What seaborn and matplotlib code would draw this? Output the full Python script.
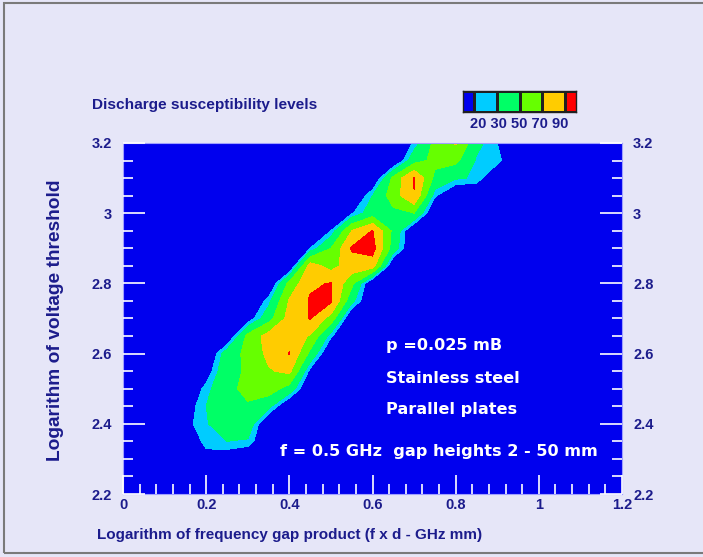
import matplotlib.pyplot as plt
import numpy as np
import seaborn as sns
from matplotlib.colors import ListedColormap
from matplotlib.patches import Rectangle
from matplotlib.ticker import MultipleLocator

# grid of log(f x d) and log(V) with susceptibility level
log_fd = [0.00, 0.05, 0.10, 0.15, 0.20, 0.25, 0.30, 0.35, 0.40, 0.45, 0.50, 0.55, 0.60,
          0.65, 0.70, 0.75, 0.80, 0.85, 0.90, 0.95, 1.00, 1.05, 1.10, 1.15, 1.20]
log_v = [2.20, 2.25, 2.30, 2.35, 2.40, 2.45, 2.50, 2.55, 2.60, 2.65, 2.70,
         2.75, 2.80, 2.85, 2.90, 2.95, 3.00, 3.05, 3.10, 3.15, 3.20]
susceptibility = [
    [0, 0, 0, 0, 0, 0, 0, 0, 0, 0, 0, 0, 0, 0, 0, 0, 0, 0, 0, 0, 0, 0, 0, 0, 0],
    [0, 0, 0, 0, 0, 0, 0, 0, 0, 0, 0, 0, 0, 0, 0, 0, 0, 0, 0, 0, 0, 0, 0, 0, 0],
    [0, 0, 0, 0, 12, 8, 0, 0, 0, 0, 0, 0, 0, 0, 0, 0, 0, 0, 0, 0, 0, 0, 0, 0, 0],
    [0, 0, 0, 0, 26, 30, 28, 0, 0, 0, 0, 0, 0, 0, 0, 0, 0, 0, 0, 0, 0, 0, 0, 0, 0],
    [0, 0, 0, 15, 28, 45, 42, 0, 0, 0, 0, 0, 0, 0, 0, 0, 0, 0, 0, 0, 0, 0, 0, 0, 0],
    [0, 0, 0, 10, 30, 45, 48, 35, 0, 0, 0, 0, 0, 0, 0, 0, 0, 0, 0, 0, 0, 0, 0, 0, 0],
    [0, 0, 0, 0, 25, 45, 55, 60, 42, 0, 0, 0, 0, 0, 0, 0, 0, 0, 0, 0, 0, 0, 0, 0, 0],
    [0, 0, 0, 0, 10, 45, 52, 68, 75, 15, 0, 0, 0, 0, 0, 0, 0, 0, 0, 0, 0, 0, 0, 0, 0],
    [0, 0, 0, 0, 0, 40, 55, 75, 91, 45, 0, 0, 0, 0, 0, 0, 0, 0, 0, 0, 0, 0, 0, 0, 0],
    [0, 0, 0, 0, 0, 0, 56, 78, 82, 68, 22, 0, 0, 0, 0, 0, 0, 0, 0, 0, 0, 0, 0, 0, 0],
    [0, 0, 0, 0, 0, 0, 10, 42, 78, 91, 62, 0, 0, 0, 0, 0, 0, 0, 0, 0, 0, 0, 0, 0, 0],
    [0, 0, 0, 0, 0, 0, 0, 25, 72, 92, 93, 35, 0, 0, 0, 0, 0, 0, 0, 0, 0, 0, 0, 0, 0],
    [0, 0, 0, 0, 0, 0, 0, 0, 56, 87, 91, 55, 0, 0, 0, 0, 0, 0, 0, 0, 0, 0, 0, 0, 0],
    [0, 0, 0, 0, 0, 0, 0, 0, 0, 80, 62, 82, 80, 0, 0, 0, 0, 0, 0, 0, 0, 0, 0, 0, 0],
    [0, 0, 0, 0, 0, 0, 0, 0, 0, 20, 50, 92, 98, 40, 0, 0, 0, 0, 0, 0, 0, 0, 0, 0, 0],
    [0, 0, 0, 0, 0, 0, 0, 0, 0, 0, 20, 70, 91, 45, 0, 0, 0, 0, 0, 0, 0, 0, 0, 0, 0],
    [0, 0, 0, 0, 0, 0, 0, 0, 0, 0, 0, 18, 40, 45, 50, 0, 0, 0, 0, 0, 0, 0, 0, 0, 0],
    [0, 0, 0, 0, 0, 0, 0, 0, 0, 0, 0, 0, 30, 60, 89, 22, 0, 0, 0, 0, 0, 0, 0, 0, 0],
    [0, 0, 0, 0, 0, 0, 0, 0, 0, 0, 0, 0, 0, 55, 92, 45, 32, 28, 0, 0, 0, 0, 0, 0, 0],
    [0, 0, 0, 0, 0, 0, 0, 0, 0, 0, 0, 0, 0, 0, 42, 55, 55, 28, 25, 0, 0, 0, 0, 0, 0],
    [0, 0, 0, 0, 0, 0, 0, 0, 0, 0, 0, 0, 0, 0, 22, 55, 72, 35, 20, 0, 0, 0, 0, 0, 0],
]

levels = [0, 20, 30, 50, 70, 90, 100]
level_colors = ["#0000ee", "#00ccff", "#00ff66", "#66ff00", "#ffcc00", "#ff0000"]
legend_labels = "20 30 50 70 90"

x_ticks = [0, 0.2, 0.4, 0.6, 0.8, 1.0, 1.2]
x_ticklabels = ["0", "0.2", "0.4", "0.6", "0.8", "1", "1.2"]
y_ticks = [2.2, 2.4, 2.6, 2.8, 3.0, 3.2]
y_ticklabels = ["2.2", "2.4", "2.6", "2.8", "3", "3.2"]

notes = ["p =0.025 mB", "Stainless steel", "Parallel plates"]
notes_y = [2.622, 2.528, 2.442]
freq_note = "f = 0.5 GHz  gap heights 2 - 50 mm"

sns.set_theme(style="white")
plt.rcParams["font.family"] = ["Liberation Sans", "DejaVu Sans"]
navy = "#1c1c8c"
bg = "#e6e6f8"

fig = plt.figure(figsize=(7.03, 5.57), dpi=100, facecolor=bg)
ax = fig.add_axes([0.175, 0.1131, 0.7098, 0.6302])
ax.contourf(log_fd, log_v, susceptibility, levels=levels, colors=level_colors)
ax.set_xlim(0, 1.2)
ax.set_ylim(2.2, 3.2)
ax.set_axisbelow(False)

ax.set_xticks(x_ticks)
ax.set_xticklabels(x_ticklabels, fontweight="bold", fontsize=10.5, color=navy)
ax.set_yticks(y_ticks)
ax.set_yticklabels(y_ticklabels, fontweight="bold", fontsize=10.5, color=navy)
ax.xaxis.set_minor_locator(MultipleLocator(0.04))
ax.yaxis.set_minor_locator(MultipleLocator(0.05))
ax.tick_params(which="both", direction="in", color="white", width=1.2,
               left=True, right=True, bottom=True, top=False,
               labelleft=True, labelright=True)
ax.tick_params(axis="x", which="major", length=14, pad=3)
ax.tick_params(axis="x", which="minor", length=7)
ax.tick_params(axis="y", which="major", length=16, pad=8)
ax.tick_params(axis="y", which="minor", length=7)
for spine in ax.spines.values():
    spine.set_color("#a0a0ff")
    spine.set_linewidth(0.8)

for txt, ty in zip(notes, notes_y):
    ax.text(0.632, ty, txt, color="white", fontsize=11.6, fontweight="bold",
            va="center", ha="left", family="DejaVu Sans")
ax.text(0.378, 2.3225, freq_note, color="white", fontsize=11.6, fontweight="bold",
        va="center", ha="left", family="DejaVu Sans")

# axis titles and heading
fig.text(290 / 703, 1 - 535 / 557, "Logarithm of frequency gap product (f x d - GHz mm)",
         ha="center", va="center", fontsize=11, fontweight="bold", color=navy)
fig.text(56 / 703, 1 - 320 / 557, "Logarithm of voltage threshold", rotation=90,
         ha="center", va="center", fontsize=13.8, fontweight="bold", color=navy)
fig.text(205 / 703, 1 - 105 / 557, "Discharge susceptibility levels",
         ha="center", va="center", fontsize=11.1, fontweight="bold", color=navy)

# colour key
cax = fig.add_axes([463 / 703, 1 - 112 / 557, 113 / 703, 21 / 557])
swatch = np.arange(len(level_colors)).reshape(1, -1)
cax.pcolormesh(swatch, cmap=ListedColormap(level_colors), edgecolors="#202020", linewidth=0.8)
cax.set_xlim(0.5, len(level_colors) - 0.5)
cax.set_xticks([])
cax.set_yticks([])
for spine in cax.spines.values():
    spine.set_color("#202020")
    spine.set_linewidth(1.0)
fig.text(519 / 703, 1 - 124 / 557, legend_labels, ha="center", va="center",
         fontsize=10.5, fontweight="bold", color=navy)

fig.add_artist(Rectangle((0.006, 0.007), 1.2, 0.9876, transform=fig.transFigure,
                         fill=False, edgecolor="#7a7a7a", linewidth=1.5))

fig.savefig("out.png", dpi=100, facecolor=bg)
